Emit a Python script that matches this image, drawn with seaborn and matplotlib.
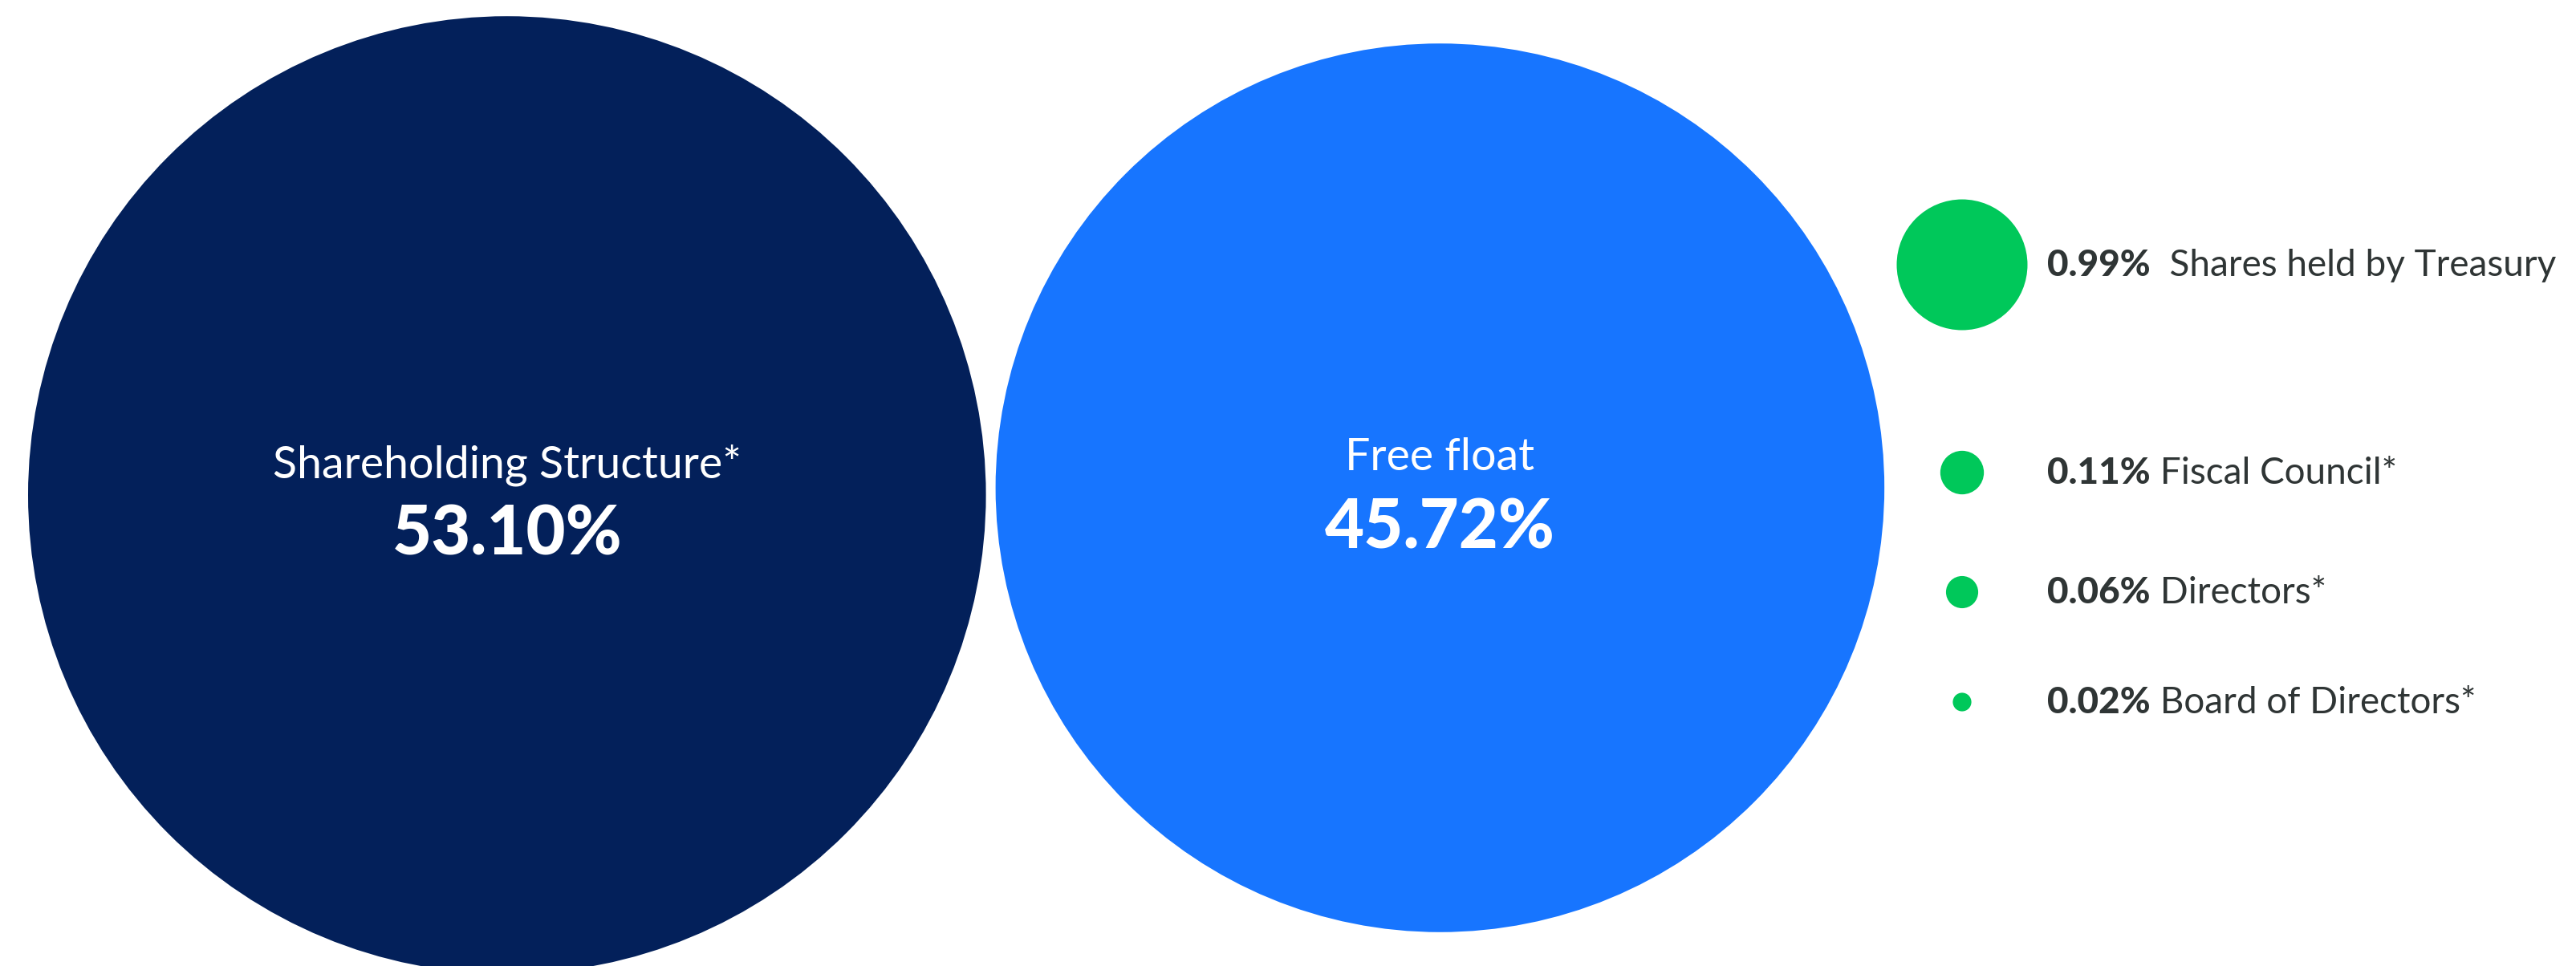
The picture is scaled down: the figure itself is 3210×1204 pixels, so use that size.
import pandas as pd
import numpy as np
import matplotlib
matplotlib.use('Agg')
import matplotlib.pyplot as plt
import seaborn as sns

# ---------------------------------------------------------------
# data
# ---------------------------------------------------------------
main_labels = ['Shareholding Structure*', 'Free float']
main_values = [53.10, 45.72]

minor_labels = ['Shares held by Treasury', 'Fiscal Council*', 'Directors*', 'Board of Directors*']
minor_values = [0.99, 0.11, 0.06, 0.02]
minor_gaps = ['  ', ' ', ' ', ' ']   # treasury label has a double space

# ---------------------------------------------------------------
# layout (pixel units, canvas 3210 x 1204)
# ---------------------------------------------------------------
W, H = 3210, 1204
DPI = 100
R_UNIT = 81.9            # px radius for value 1.0 (area proportional to value)
PT = 72 / DPI

NAVY = '#03205A'
BLUE = '#1775FF'
GREEN = '#00C85A'
TEXT = '#2F3535'

radius = lambda v: R_UNIT * np.sqrt(v)

r1, r2 = radius(main_values[0]), radius(main_values[1])
x1 = 35 + r1
x2 = x1 + r1 + 12 + r2
main_x = [x1, x2]
main_y = [617, 608]

col_x = 2445
minor_y = [330, 589, 738, 875]

df = pd.DataFrame({
    'x': main_x + [col_x] * len(minor_values),
    'y': main_y + minor_y,
    'value': main_values + minor_values,
    'group': main_labels + minor_labels,
})

palette = {main_labels[0]: NAVY, main_labels[1]: BLUE}
palette.update({k: GREEN for k in minor_labels})

# marker area (pt^2) proportional to value
k = (2 * R_UNIT * PT) ** 2
vmin, vmax = df['value'].min(), df['value'].max()

sns.set_theme(style='white')
plt.rcParams['font.family'] = ['Lato', 'DejaVu Sans']

fig = plt.figure(figsize=(W / DPI, H / DPI), dpi=DPI)
ax = fig.add_axes([0, 0, 1, 1])

sns.scatterplot(data=df, x='x', y='y', hue='group', palette=palette,
                size='value', sizes=(k * vmin, k * vmax), size_norm=(vmin, vmax),
                linewidth=0, legend=False, ax=ax, zorder=2)

ax.set_xlim(0, W)
ax.set_ylim(H, 0)
ax.set_aspect('equal')
ax.axis('off')

# labels inside the big circles
for lab, val, cx, cy in zip(main_labels, main_values, main_x, main_y):
    ax.text(cx, cy - 22, lab, color='white', fontsize=40, ha='center', va='baseline', zorder=3)
    ax.text(cx, cy + 75, f'{val:.2f}%', color='white', fontsize=61, fontweight='black',
            ha='center', va='baseline', zorder=3)

# labels next to the small circles
for lab, val, gap, cy in zip(minor_labels, minor_values, minor_gaps, minor_y):
    t = ax.text(2551, cy + 14, f'{val:.2f}%', color=TEXT, fontsize=33, fontweight='black',
                ha='left', va='baseline')
    ax.annotate(gap + lab, xy=(1, 0), xycoords=t, xytext=(0, 0), textcoords='offset points',
                color=TEXT, fontsize=33, ha='left', va='bottom')

fig.savefig('out.png', dpi=DPI, facecolor='white')
